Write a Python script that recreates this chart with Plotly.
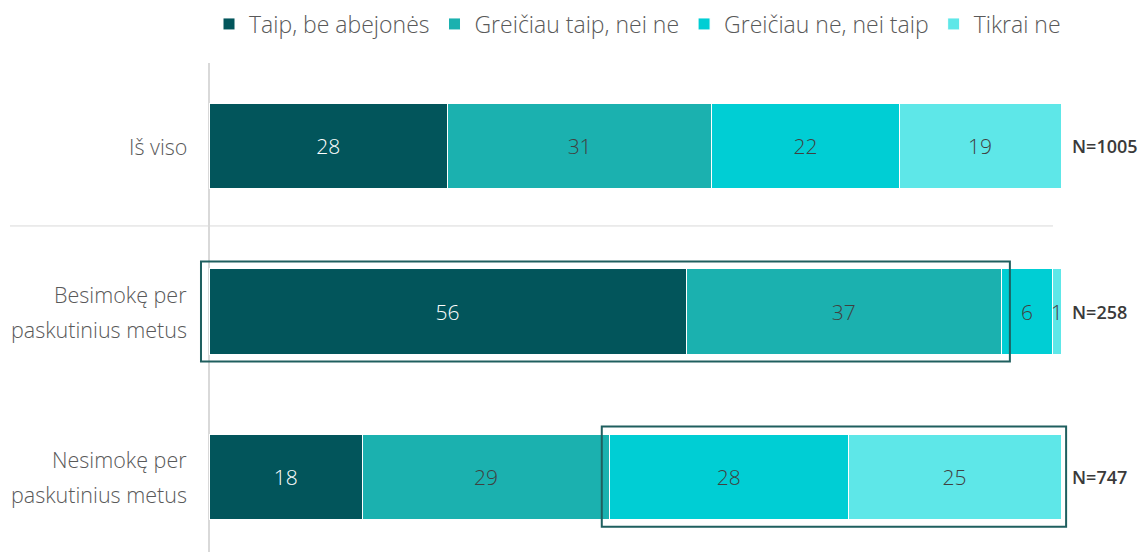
import plotly.graph_objects as go

categories = ["Iš viso", "Besimokę per<br>paskutinius metus", "Nesimokę per<br>paskutinius metus"]
series_names = ["Taip, be abejonės", "Greičiau taip, nei ne", "Greičiau ne, nei taip", "Tikrai ne"]
taip = [28, 56, 18]
greiciau_taip = [31, 37, 29]
greiciau_ne = [22, 6, 28]
tikrai_ne = [19, 1, 25]
n_labels = ["N=1005", "N=258", "N=747"]

series_values = [taip, greiciau_taip, greiciau_ne, tikrai_ne]
colors = ["#02555B", "#1BB1AF", "#00CED4", "#5EE7E8"]
text_colors = ["#FFFFFF", "#404040", "#404040", "#404040"]

FONT = "Open Sans"
Y_TOP, Y_BOT = -0.5015, 2.453


def ypaper(v):
    return (Y_BOT - v) / (Y_BOT - Y_TOP)


fig = go.Figure()
for name, vals, col, tc in zip(series_names, series_values, colors, text_colors):
    fig.add_trace(go.Bar(
        y=list(range(len(categories))), x=vals, name=name, orientation="h",
        marker=dict(color=col, line=dict(color="white", width=1)),
        width=0.514,
        text=[str(v) for v in vals], textposition="inside", insidetextanchor="middle",
        textfont=dict(color=tc, size=21, family=FONT, weight=300),
        hoverinfo="skip",
    ))

# Category labels (manual, to control line spacing)
for i, cat in enumerate(categories):
    lines = cat.split("<br>")
    nl = len(lines)
    for j, ln in enumerate(lines):
        fig.add_annotation(x=0, xref="x", y=i, yref="y", text=ln, showarrow=False,
                           xanchor="right", yanchor="middle", xshift=-20,
                           yshift=(nl - 1) / 2 * 35 - j * 35,
                           font=dict(size=21.5, color="#595959", family=FONT, weight=300))

# N labels
totals = [sum(s[i] for s in series_values) for i in range(len(categories))]
for i, nlab in enumerate(n_labels):
    fig.add_annotation(x=totals[i], xref="x", y=i, yref="y", text=nlab, showarrow=False,
                       xanchor="left", yanchor="middle", xshift=9,
                       font=dict(size=18, color="#3A3A3A", family=FONT, weight=600))

# separator line between first row and the rest
fig.add_shape(type="line", xref="paper", yref="paper", x0=-0.2336, x1=0.9906,
              y0=ypaper(0.483), y1=ypaper(0.483),
              line=dict(color="#D9D9D9", width=1), layer="below")
# vertical axis line
fig.add_shape(type="line", xref="paper", yref="paper", x0=0, x1=0, y0=0, y1=1,
              line=dict(color="#D9D9D9", width=2), layer="below")

# highlight boxes (paper refs so they are not clipped by the plot area)
box_col = "#1F5F5F"
b2_end = taip[1] + greiciau_taip[1]
fig.add_shape(type="rect", xref="paper", yref="paper", x0=-0.0094, x1=(b2_end + 1.0) / 100,
              y0=ypaper(1.302), y1=ypaper(0.698),
              line=dict(color=box_col, width=2), fillcolor="rgba(0,0,0,0)")
b3_start = taip[2] + greiciau_taip[2]
fig.add_shape(type="rect", xref="paper", yref="paper", x0=(b3_start - 0.9) / 100,
              x1=(totals[2] + 0.6) / 100,
              y0=ypaper(2.30), y1=ypaper(1.695),
              line=dict(color=box_col, width=2), fillcolor="rgba(0,0,0,0)")

fig.update_layout(
    width=1138, height=544, barmode="stack",
    margin=dict(l=201, r=85, t=55, b=0, autoexpand=False),
    plot_bgcolor="white", paper_bgcolor="white",
    font=dict(family=FONT, color="#595959"),
    showlegend=True,
    legend=dict(orientation="h", xref="container", yref="container",
                x=201 / 1138, xanchor="left", y=1 - 16 / 544, yanchor="middle",
                font=dict(size=23, color="#595959", family=FONT, weight=300),
                traceorder="normal", itemwidth=30),
    uniformtext=dict(minsize=21, mode="show"),
    xaxis=dict(range=[0, 100], visible=False, fixedrange=True),
    yaxis=dict(range=[Y_BOT, Y_TOP], visible=False, fixedrange=True),
)

fig.write_html("out.html")
